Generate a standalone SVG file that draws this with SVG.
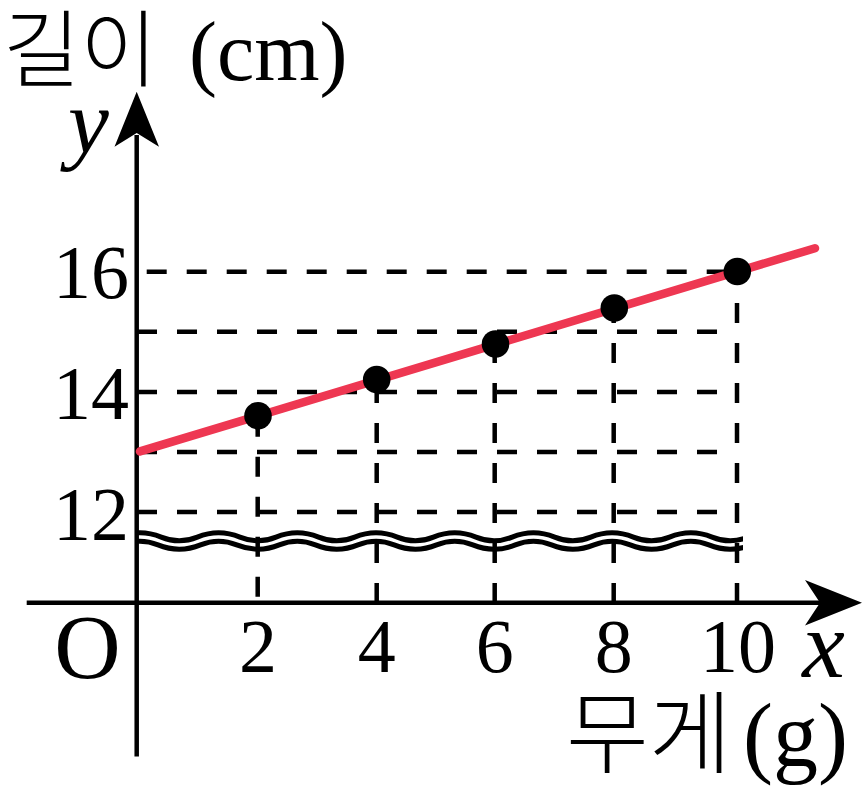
<svg xmlns="http://www.w3.org/2000/svg" width="864" height="794" viewBox="0 0 864 794">
<defs>
<style>
.ax{stroke:#000;stroke-width:4.5;fill:none}
.dash{stroke:#000;stroke-width:4.5;stroke-dasharray:20 20;fill:none}
.red{stroke:#EE3752;stroke-width:8.5;stroke-linecap:round;fill:none}
.pt{fill:#000}
.num{font-family:"Liberation Serif","DejaVu Serif",serif;font-size:76px;fill:#000}
.var{font-family:"Liberation Serif","DejaVu Serif",serif;font-style:italic;fill:#000}
.lab{font-family:"Liberation Serif","Noto Sans CJK KR",serif;fill:#000}
.ko{font-family:"Noto Sans CJK KR","Noto Sans CJK SC",sans-serif;font-weight:300}
</style>
<path id="wave" d="M120.25,541 Q139.9,533 159.6,541 T198.95,541 T238.3,541 T277.65,541 T317,541 T356.35,541 T395.7,541 T435.05,541 T474.4,541 T513.75,541 T553.1,541 T592.45,541 T631.8,541 T671.15,541 T710.5,541 T749.85,541" fill="none"/>
<clipPath id="wclip"><rect x="137" y="500" width="606" height="80"/></clipPath>
</defs>
<rect width="864" height="794" fill="#fff"/>

<g id="break-mark" clip-path="url(#wclip)">
<use href="#wave" stroke="#000" stroke-width="13.5"/>
<use href="#wave" stroke="#fff" stroke-width="3.5"/>
</g>

<g id="connectors">
<g id="grid">
<line class="dash" x1="146.7" y1="271.7" x2="727" y2="271.7"/>
<line class="dash" x1="137" y1="331.7" x2="717" y2="331.7"/>
<line class="dash" x1="137" y1="391.9" x2="717" y2="391.9"/>
<line class="dash" x1="137" y1="452.1" x2="717" y2="452.1"/>
<line class="dash" x1="137" y1="512.1" x2="717" y2="512.1"/>
<line class="dash" x1="257.7" y1="596.7" x2="257.7" y2="416"/>
<line class="dash" x1="376.7" y1="603" x2="376.7" y2="380"/>
<line class="dash" x1="494.7" y1="603" x2="494.7" y2="344"/>
<line class="dash" x1="613.7" y1="603" x2="613.7" y2="308"/>
<line class="dash" x1="737" y1="603" x2="737" y2="271.7"/>
</g>
<g id="axes">
<line class="ax" x1="26.7" y1="602.8" x2="825" y2="602.8"/>
<path d="M862,602.8 L805,580 L820,602.8 L805,625.6 Z" fill="#000"/>
<line class="ax" x1="136.7" y1="756.5" x2="136.7" y2="135"/>
<path d="M136.7,91.7 L114.5,146.7 L136.7,133 L159,146.7 Z" fill="#000"/>
</g>
<line id="trend" class="red" x1="140" y1="451.4" x2="815" y2="248.2"/>
</g>

<g id="points">
<circle class="pt" cx="258" cy="415.7" r="13.8"/>
<circle class="pt" cx="376.7" cy="379.6" r="13.8"/>
<circle class="pt" cx="495.5" cy="344" r="13.8"/>
<circle class="pt" cx="614.3" cy="308" r="13.8"/>
<circle class="pt" cx="737.3" cy="271.5" r="13.8"/>
</g>

<g id="labels">
<text id="y-title" class="lab" y="80" style="font-size:84px"><tspan class="ko" x="3">길이</tspan><tspan x="189">(cm)</tspan></text>
<text id="y-var" class="var" x="68" y="153" style="font-size:92px">y</text>
<text class="num" x="129" y="298" text-anchor="end">16</text>
<text class="num" x="129" y="419" text-anchor="end">14</text>
<text class="num" x="129" y="540" text-anchor="end">12</text>
<text id="origin" class="num" x="87.5" y="678" text-anchor="middle" style="font-size:92px">O</text>
<text class="num" x="258" y="672" text-anchor="middle">2</text>
<text class="num" x="376.7" y="672" text-anchor="middle">4</text>
<text class="num" x="494.7" y="672" text-anchor="middle">6</text>
<text class="num" x="613.7" y="672" text-anchor="middle">8</text>
<text class="num" x="738" y="672" text-anchor="middle">10</text>
<text id="x-var" class="var" x="823.5" y="677" text-anchor="middle" style="font-size:96px">x</text>
<text id="x-title" class="lab" y="766" style="font-size:90px"><tspan class="ko" x="566">무게</tspan><tspan x="743">(g)</tspan></text>
</g>
</svg>
